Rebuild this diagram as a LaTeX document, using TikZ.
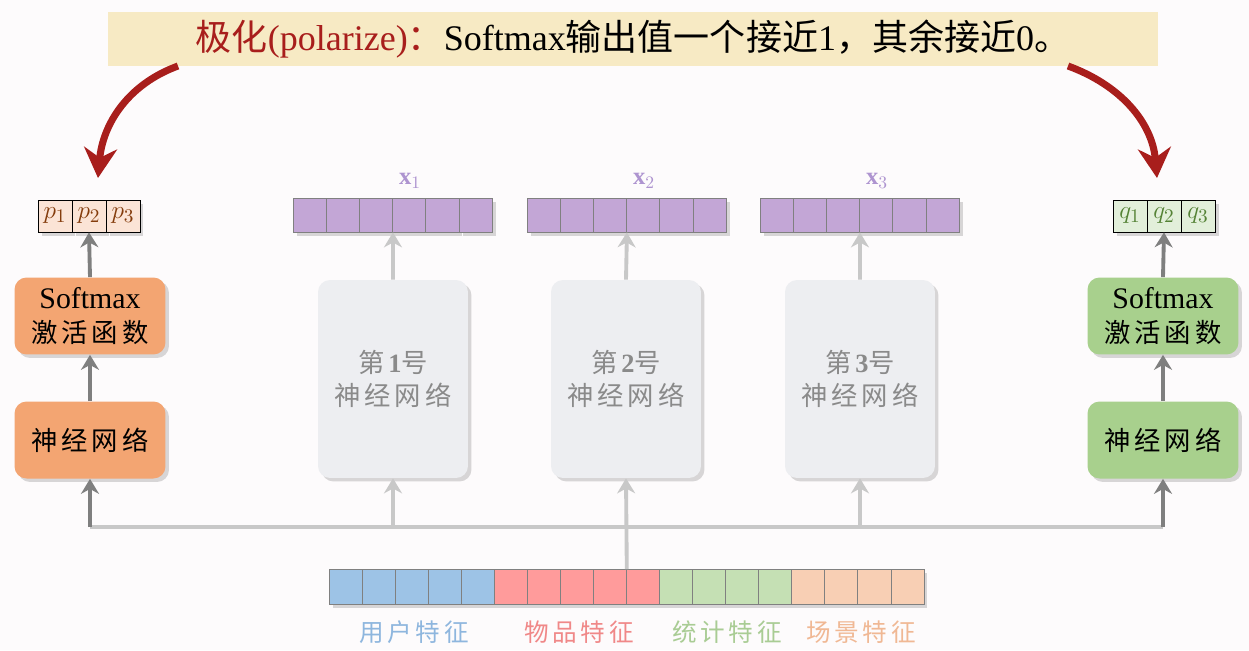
\documentclass[tikz,border=0pt]{standalone}
\usepackage{fontspec}
\setmainfont{Liberation Serif}
\newfontfamily\cjk{Noto Sans CJK SC}
\newfontfamily\cjkw[LetterSpace=15]{Noto Sans CJK SC}
\usetikzlibrary{arrows.meta, positioning, shadows}

\definecolor{bgcol}{HTML}{FDFBFC}
\definecolor{bannerfill}{HTML}{F7EAC4}
\definecolor{tred}{HTML}{A81E1C}
\definecolor{orangebox}{HTML}{F3A572}
\definecolor{greenbox}{HTML}{A8D08D}
\definecolor{pfill}{HTML}{FBE4D6}
\definecolor{ptext}{HTML}{843C0C}
\definecolor{qfill}{HTML}{E2EFDA}
\definecolor{qtext}{HTML}{548235}
\definecolor{xfill}{HTML}{C3A6D6}
\definecolor{xtext}{HTML}{AE94D0}
\definecolor{nnfill}{HTML}{EDEEF1}
\definecolor{nntext}{HTML}{8A8A8A}
\definecolor{darkgray}{HTML}{7F7F7F}
\definecolor{lightgray}{HTML}{C8C8C8}
\definecolor{fblue}{HTML}{9DC3E6}
\definecolor{fred}{HTML}{FF9B9B}
\definecolor{fgreen}{HTML}{C5E0B4}
\definecolor{fpeach}{HTML}{F8CFB4}
\definecolor{lblue}{HTML}{8EB6DE}
\definecolor{lred}{HTML}{F08888}
\definecolor{lgreen}{HTML}{A9CC94}
\definecolor{lpeach}{HTML}{F0B894}

\begin{document}
\begin{tikzpicture}[
  x=0.02cm, y=-0.02cm,
  shad/.style={drop shadow={opacity=0.3, shadow xshift=0.7mm, shadow yshift=-0.7mm}},
  banner/.style={fill=bannerfill, minimum width=21cm, minimum height=1.08cm, inner sep=0pt, font=\fontsize{20.5}{24}\selectfont},
  box/.style={rounded corners=2.4mm, minimum width=3.02cm, minimum height=1.54cm, inner sep=0pt, align=center, font=\fontsize{15}{19}\selectfont, shad},
  nnbox/.style={box, fill=nnfill, text=nntext, minimum width=3cm, minimum height=3.96cm},
  pcell/.style={draw=black, thin, minimum width=0.68cm, minimum height=0.64cm, inner sep=0pt, font=\fontsize{15}{17}\selectfont, shad},
  xcell/.style={draw=gray, fill=xfill, minimum width=0.664cm, minimum height=0.68cm, inner sep=0pt, shad},
  fcell/.style={draw=gray, minimum width=0.661cm, minimum height=0.7cm, inner sep=0pt, shad},
  flab/.style={font=\fontsize{14}{16}\selectfont\cjkw},
  darr/.style={-{Stealth[length=3mm, width=3.6mm]}, line width=2.2pt, darkgray},
  larr/.style={-{Stealth[length=3mm, width=3.6mm]}, line width=2.2pt, lightgray},
  redarr/.style={-{Stealth[length=6mm, width=6.6mm]}, line width=4pt, tred}]

  \fill[bgcol] (0,0) rectangle (1249,650);
  \useasboundingbox (0,0) rectangle (1249,650);

  \node[banner] (title) at (633,39) {{\color{tred}{\cjk 极化}(polarize){\cjk ：}}Softmax{\cjk 输出值一个接近}1{\cjk ，其余接近}0{\cjk 。}};
  \coordinate (redL0) at (178,66);
  \coordinate (redL1) at (98,178);
  \coordinate (redR0) at (1068,66);
  \coordinate (redR1) at (1157,178);
  \draw[redarr] (redL0) to[out=200, in=85] (redL1);
  \draw[redarr] (redR0) to[out=-20, in=95] (redR1);

  % left and right models
  \foreach \i in {1,2,3} {
    \node[pcell, fill=pfill, text=ptext] (p\i) at ({38+(\i-0.5)*34}, 216) {$p_\i$};
    \node[pcell, fill=qfill, text=qtext] (q\i) at ({1113+(\i-0.5)*34}, 216) {$q_\i$};
  }
  \node[box, fill=orangebox] (smL) at (90,316) {{\fontsize{17}{19}\selectfont Softmax}\\{\cjkw 激活函数}};
  \node[box, fill=orangebox] (nnL) at (90,440) {\cjkw 神经网络};
  \node[box, fill=greenbox] (smR) at (1163,316) {{\fontsize{17}{19}\selectfont Softmax}\\{\cjkw 激活函数}};
  \node[box, fill=greenbox] (nnR) at (1163,440) {\cjkw 神经网络};

  % expert networks
  \foreach \v/\s/\c in {1/293/393, 2/527/626, 3/760/860} {
    \foreach \i in {1,...,6}
      \node[xcell] (x\v-\i) at ({\s+(\i-0.5)*33.2}, 215) {};
    \node[text=xtext, font=\fontsize{14}{16}\selectfont] (lx\v) at ({\s+117}, 181) {$\mathbf{x}_\v$};
    \node[nnbox] (nn\v) at (\c,379) {{\cjkw 第}\textbf{\v}{\cjkw 号}\\{\cjkw 神经网络}};
  }

  % input features
  \foreach \i in {1,...,5}
    \node[fcell, fill=fblue] (f\i) at ({329+(\i-0.5)*33.05}, 587) {};
  \foreach \i in {6,...,10}
    \node[fcell, fill=fred] (f\i) at ({329+(\i-0.5)*33.05}, 587) {};
  \foreach \i in {11,...,14}
    \node[fcell, fill=fgreen] (f\i) at ({329+(\i-0.5)*33.05}, 587) {};
  \foreach \i in {15,...,18}
    \node[fcell, fill=fpeach] (f\i) at ({329+(\i-0.5)*33.05}, 587) {};
  \node[flab, text=lblue] (lu) at (414,632) {用户特征};
  \node[flab, text=lred] (li) at (579,632) {物品特征};
  \node[flab, text=lgreen] (ls) at (727,632) {统计特征};
  \node[flab, text=lpeach] (lc) at (861,632) {场景特征};

  % connectors
  \coordinate (busL) at (90,527);
  \coordinate (busR) at (1163,527);
  \draw[line width=2.2pt, lightgray] (busL) -- (busR);
  \draw[larr] (nn1.south |- busL) -- (nn1.south);
  \draw[larr] (f9.north east) -- (nn2.south);
  \draw[larr] (nn3.south |- busL) -- (nn3.south);
  \draw[darr] (busL) -- (nnL.south);
  \draw[darr] (busR) -- (nnR.south);
  \draw[darr] (nnL.north) -- (smL.south);
  \draw[darr] (smL.north) -- (p2.south);
  \draw[darr] (nnR.north) -- (smR.south);
  \draw[darr] (smR.north) -- (q2.south);
  \draw[larr] (nn1.north) -- (x1-3.south east);
  \draw[larr] (nn2.north) -- (x2-3.south east);
  \draw[larr] (nn3.north) -- (x3-3.south east);
\end{tikzpicture}
\end{document}
